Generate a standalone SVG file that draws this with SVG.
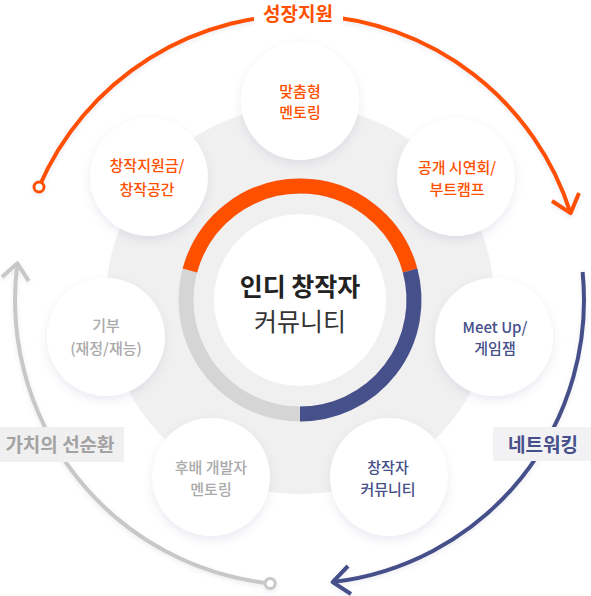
<svg xmlns="http://www.w3.org/2000/svg" width="591" height="596" viewBox="0 0 591 596">
<defs>
<filter id="sh" x="-30%" y="-30%" width="160%" height="170%">
<feDropShadow dx="0" dy="4" stdDeviation="4" flood-color="#5a6396" flood-opacity="0.13"/>
</filter>
<filter id="ash" x="-10%" y="-10%" width="120%" height="120%">
<feDropShadow dx="0" dy="2" stdDeviation="2" flood-color="#5a6396" flood-opacity="0.12"/>
</filter>
<style>
text{font-family:"Noto Sans CJK KR","Noto Sans",sans-serif;text-anchor:middle}
.n{font-size:15px;font-weight:500}
.o{fill:#ff5000}
.b{fill:#454f8a}
.g{fill:#a9a9a9}
.lab{font-size:19px;font-weight:bold}
.arc{fill:none;stroke-width:4;stroke-linecap:butt;stroke-linejoin:round}
.node{fill:#fff;filter:url(#sh)}
</style>
</defs>
<rect width="591" height="596" fill="#fff"/>
<circle cx="300" cy="300" r="194" fill="#f0f0f0"/>

<g id="connectors" filter="url(#ash)">
<path class="arc" stroke="#ff5000" d="M39,187 A284,284 0 0 1 570.6,213.2"/>
<polyline class="arc" stroke="#ff5000" points="552,201 570.6,213.2 579,193"/>
<circle cx="39" cy="187" r="5" fill="#fff" stroke="#ff5000" stroke-width="3"/>
<path class="arc" stroke="#454f8a" d="M582.6,272 A284,284 0 0 1 332.6,582.1"/>
<polyline class="arc" stroke="#454f8a" points="348,566 332.6,582.1 351,594"/>
<path class="arc" stroke="#c8c8c8" stroke-width="3.5" d="M270.2,583.4 A285,285 0 0 1 17.4,263.3"/>
<polyline class="arc" stroke="#c8c8c8" stroke-width="3.5" points="28.7,281 17.4,263.3 2,277"/>
<circle cx="270.2" cy="583.4" r="5" fill="#fff" stroke="#c8c8c8" stroke-width="3"/>
</g>

<g id="label-growth">
<rect x="254" y="0" width="89" height="28" fill="#fff"/>
<text class="lab o" x="298" y="21">성장지원</text>
</g>
<g id="label-network">
<rect x="493" y="427" width="98" height="34" fill="#f2f2f5"/>
<text class="lab b" x="543" y="452">네트워킹</text>
</g>
<g id="label-virtuous">
<rect x="0" y="427" width="124" height="35" fill="#f0f0f0"/>
<text class="lab" x="60" y="452" fill="#a3a3a3">가치의 선순환</text>
</g>

<g id="center">
<circle cx="300" cy="300" r="114" fill="none" stroke="#d5d5d5" stroke-width="15"/>
<path d="M189.9,270.5 A114,114 0 0 1 410.1,270.5" fill="none" stroke="#ff5000" stroke-width="15"/>
<path d="M410.1,270.5 A114,114 0 0 1 300,414" fill="none" stroke="#46508b" stroke-width="15"/>
<circle cx="300" cy="300" r="86" fill="#fff"/>
<text x="300" y="296" font-size="25" font-weight="bold" fill="#222">인디 창작자</text>
<text x="300" y="331" font-size="25" fill="#333">커뮤니티</text>
</g>

<g id="node-mentoring">
<circle class="node" cx="300" cy="101" r="59"/>
<text class="n o" x="300" y="96.5">맞춤형</text>
<text class="n o" x="300" y="118">멘토링</text>
</g>
<g id="node-showcase">
<circle class="node" cx="456" cy="177" r="59"/>
<text class="n o" x="457" y="172.5">공개 시연회/</text>
<text class="n o" x="457" y="194.5">부트캠프</text>
</g>
<g id="node-meetup">
<circle class="node" cx="494" cy="337" r="59"/>
<text class="n b" x="495" y="332.5">Meet Up/</text>
<text class="n b" x="495" y="354">게임잼</text>
</g>
<g id="node-community">
<circle class="node" cx="389" cy="477" r="59"/>
<text class="n b" x="388" y="472.5">창작자</text>
<text class="n b" x="388" y="494.5">커뮤니티</text>
</g>
<g id="node-junior">
<circle class="node" cx="211" cy="477" r="59"/>
<text class="n g" x="211" y="472.5">후배 개발자</text>
<text class="n g" x="211" y="494.5">멘토링</text>
</g>
<g id="node-donation">
<circle class="node" cx="106" cy="337" r="59"/>
<text class="n g" x="106" y="330.5">기부</text>
<text class="n g" x="106" y="353.5">(재정/재능)</text>
</g>
<g id="node-funding">
<circle class="node" cx="149" cy="177" r="59"/>
<text class="n o" x="147" y="170.5">창작지원금/</text>
<text class="n o" x="147" y="194.5">창작공간</text>
</g>
</svg>
